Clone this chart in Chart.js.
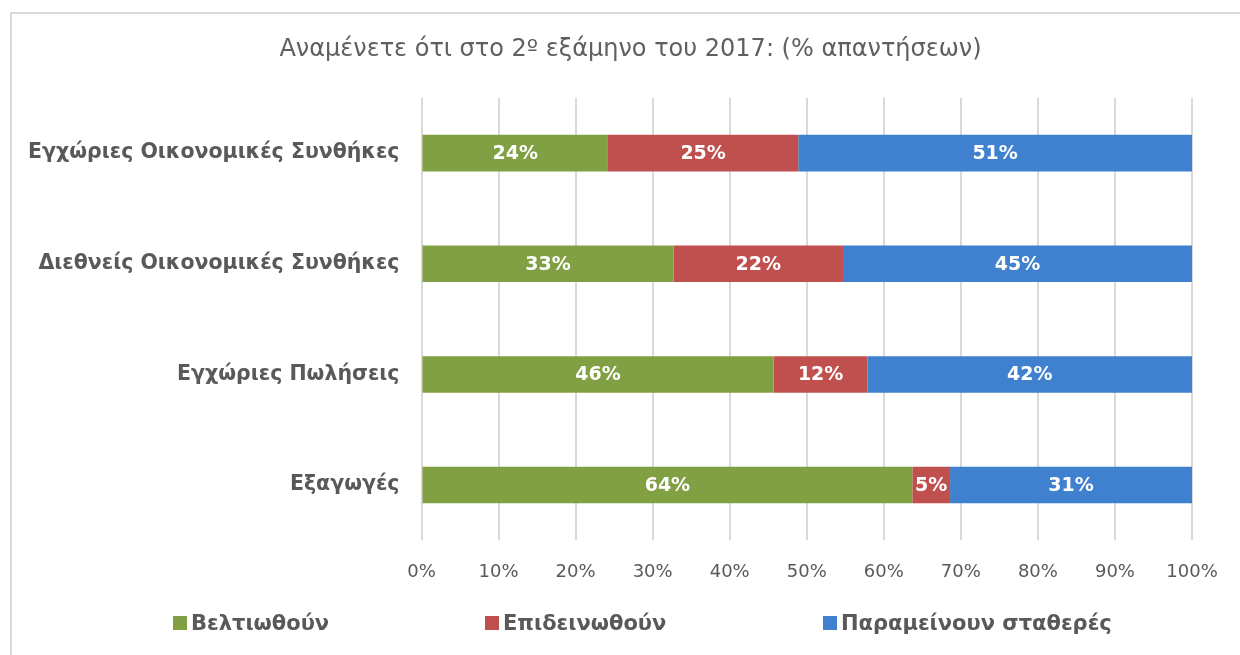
<!DOCTYPE html>
<html>
<head>
<meta charset="utf-8">
<script src="https://cdn.jsdelivr.net/npm/chart.js@4"></script>
<style>
  html, body { margin: 0; padding: 0; background: #fff; overflow: hidden; width: 1240px; height: 655px; }
  #frame {
    position: absolute; left: 10px; top: 12px;
    width: 1300px; height: 700px;
    border: 2px solid #d9d9d9; box-sizing: border-box;
  }
  #wrap { position: absolute; left: 0; top: 0; width: 1237px; height: 600px; }
  #legend {
    position: absolute; left: 161px; top: 597px;
    display: grid; grid-template-columns: 312px 338px auto;
    font: bold 21px "DejaVu Sans", sans-serif; color: #595959;
  }
  #legend .item { display: flex; align-items: center; white-space: nowrap; }
  #legend .box { width: 14px; height: 14px; margin-right: 4px; }
</style>
</head>
<body>
<div id="frame">
  <div id="wrap"><canvas id="chart"></canvas></div>
  <div id="legend"></div>
</div>
<script>
const categories = [
  "Εγχώριες Οικονομικές Συνθήκες",
  "Διεθνείς Οικονομικές Συνθήκες",
  "Εγχώριες Πωλήσεις",
  "Εξαγωγές"
];
const seriesNames = ["Βελτιωθούν", "Επιδεινωθούν", "Παραμείνουν σταθερές"];
const improve = [24.2, 32.7, 45.7, 63.7];
const worsen = [24.7, 22.0, 12.2, 4.9];
const stable = [51.1, 45.3, 42.1, 31.4];
const xTicks = [0, 10, 20, 30, 40, 50, 60, 70, 80, 90, 100];
const colors = ["#80a043", "#c0504d", "#3f80cf"];

const FONT = "'DejaVu Sans', sans-serif";

// white value labels in the middle of each bar piece
const barLabels = {
  id: "barLabels",
  afterDatasetsDraw(chart) {
    const ctx = chart.ctx;
    ctx.save();
    ctx.font = "bold 19px " + FONT;
    ctx.fillStyle = "#ffffff";
    ctx.textAlign = "center";
    ctx.textBaseline = "middle";
    chart.data.datasets.forEach((ds, i) => {
      chart.getDatasetMeta(i).data.forEach((bar, j) => {
        const p = bar.getCenterPoint();
        ctx.fillText(Math.round(ds.data[j]) + "%", p.x, p.y + 1);
      });
    });
    ctx.restore();
  }
};

// title centred on the whole canvas, not on the padded box
const centerTitle = {
  id: "centerTitle",
  afterLayout(chart) {
    if (chart.titleBlock) {
      chart.titleBlock.left = 0;
      chart.titleBlock.right = chart.width;
    }
  }
};

const chart = new Chart(document.getElementById("chart").getContext("2d"), {
  type: "bar",
  data: {
    labels: categories,
    datasets: [improve, worsen, stable].map((values, i) => ({
      label: seriesNames[i],
      data: values,
      backgroundColor: colors[i],
      borderWidth: 0,
      barPercentage: 0.33,
      categoryPercentage: 1
    }))
  },
  options: {
    indexAxis: "y",
    responsive: true,
    maintainAspectRatio: false,
    animation: false,
    layout: { padding: { top: 0, bottom: 10, left: 0, right: 57 } },
    plugins: {
      legend: { display: false },
      tooltip: { enabled: false },
      title: {
        display: true,
        text: "Αναμένετε ότι στο 2º εξάμηνο του 2017: (% απαντήσεων)",
        color: "#5f5f5f",
        font: { family: FONT, size: 24, weight: "normal" },
        padding: { top: 21, bottom: 34 }
      }
    },
    scales: {
      x: {
        stacked: true,
        min: 0,
        max: 100,
        afterBuildTicks: scale => { scale.ticks = xTicks.map(v => ({ value: v })); },
        ticks: {
          callback: v => v + "%",
          color: "#595959",
          font: { family: FONT, size: 18 },
          padding: 21
        },
        grid: { color: "#d9d9d9", lineWidth: 2, drawTicks: false },
        border: { display: false }
      },
      y: {
        stacked: true,
        afterFit: scale => { scale.width = 409.5; },
        ticks: {
          color: "#595959",
          font: { family: FONT, size: 20.5, weight: "bold" },
          padding: 22
        },
        grid: { display: false, drawTicks: false },
        border: { display: false }
      }
    }
  },
  plugins: [barLabels, centerTitle]
});

const legend = document.getElementById("legend");
seriesNames.forEach((name, i) => {
  const item = document.createElement("div");
  item.className = "item";
  item.innerHTML = `<span class="box" style="background:${colors[i]}"></span>${name}`;
  legend.appendChild(item);
});
</script>
</body>
</html>
